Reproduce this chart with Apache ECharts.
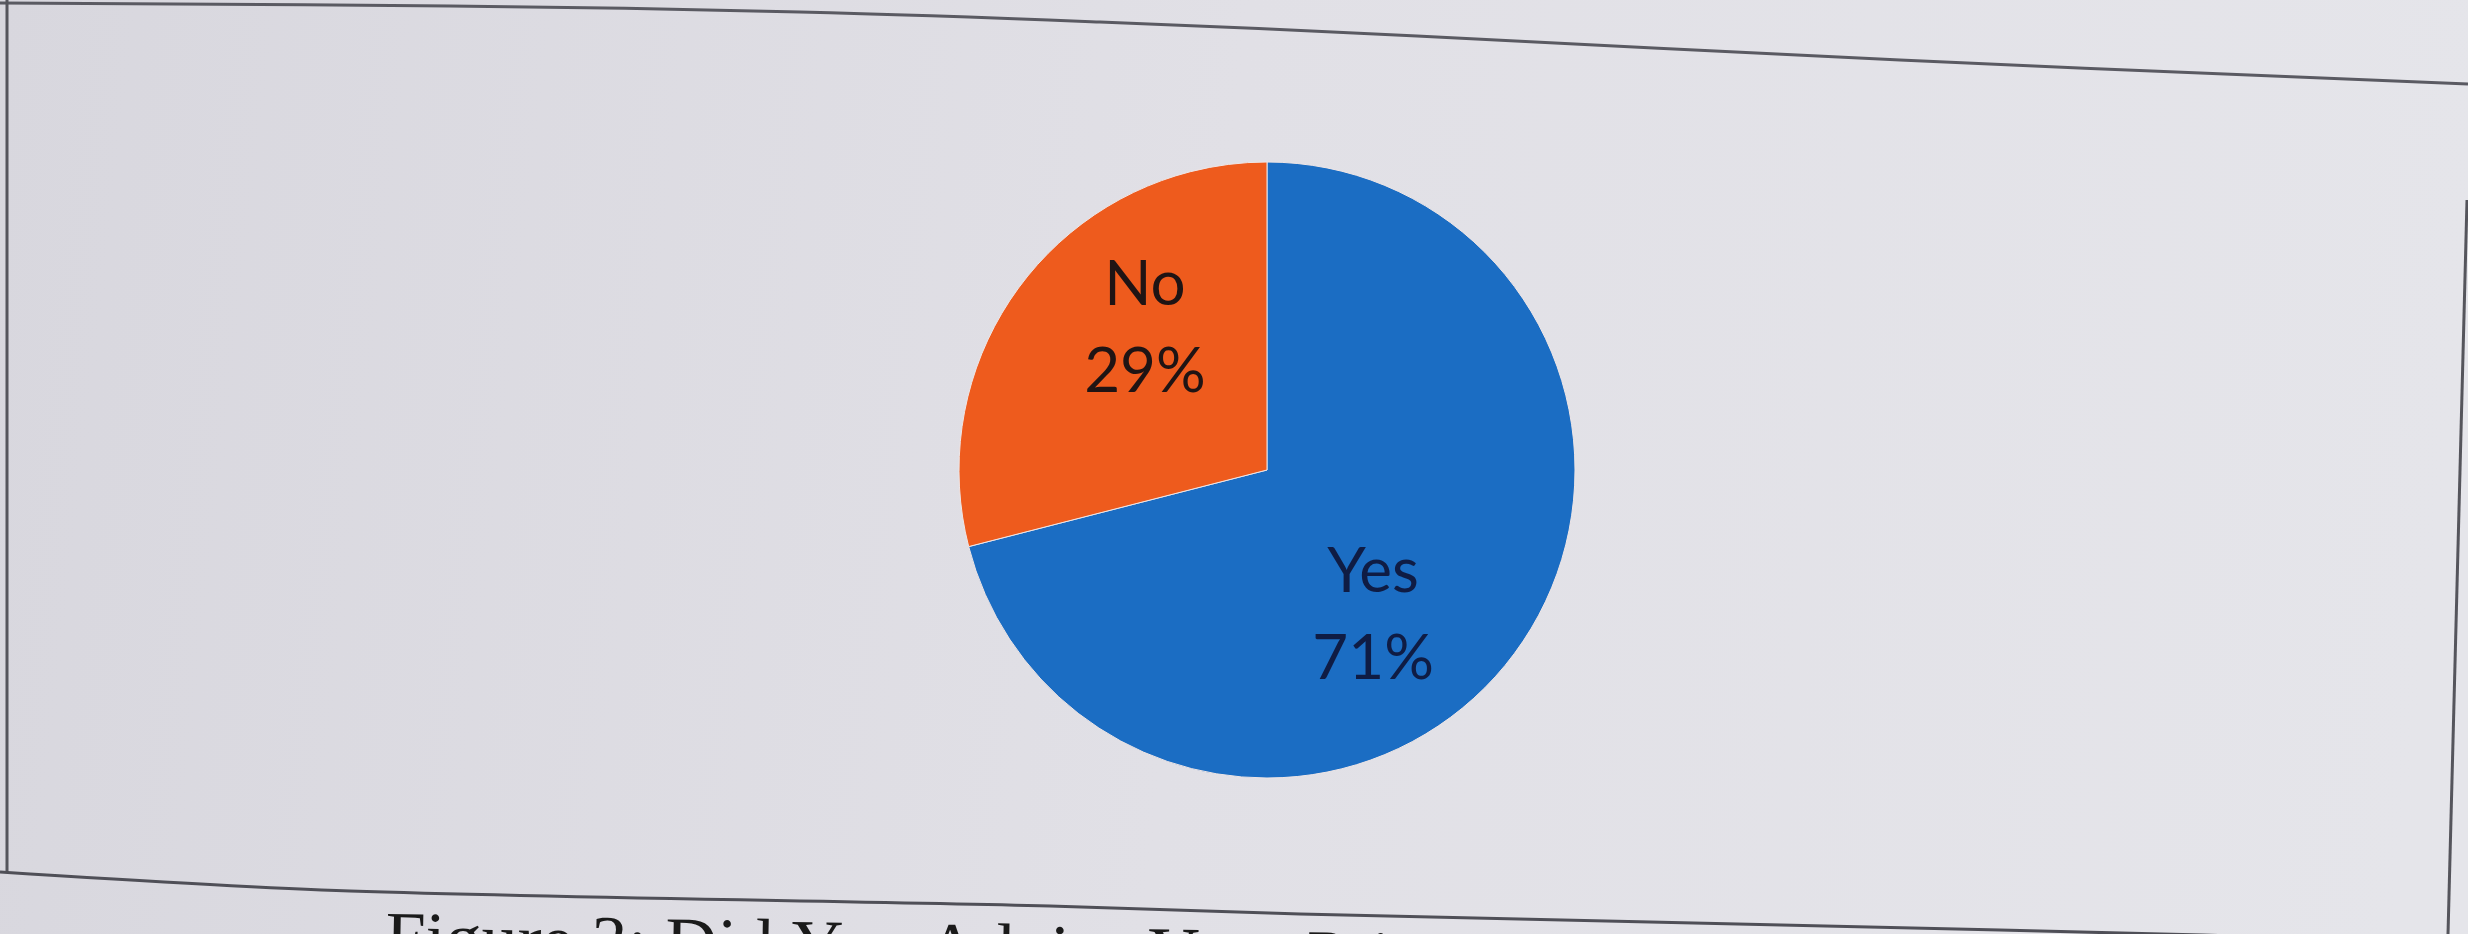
<!DOCTYPE html>
<html>
<head>
<meta charset="utf-8">
<script src="https://cdn.jsdelivr.net/npm/echarts@6/dist/echarts.min.js"></script>
<style>
html,body{margin:0;padding:0;}
#chart{width:2468px;height:934px;}
</style>
</head>
<body>
<div id="chart"></div>
<script>
// Data
const categories = ['Yes', 'No'];
const values = [71, 29];
const sliceColors = ['#1b6dc3', '#ee5b1d'];
const labelColors = ['#0f1c44', '#1f1414'];
const labelOffsets = [[-18, 49], [2, -45]];
const caption = 'Figure 3: Did You Advise Your Principal';

const chart = echarts.init(document.getElementById('chart'));

const seriesData = categories.map((c, i) => ({
  name: c,
  value: values[i],
  itemStyle: { color: sliceColors[i] },
  label: { color: labelColors[i], offset: labelOffsets[i] }
}));

const option = {
  backgroundColor: {
    type: 'linear', x: 0, y: 0, x2: 1, y2: 0.3,
    colorStops: [
      { offset: 0, color: '#d8d7de' },
      { offset: 0.5, color: '#e1e0e6' },
      { offset: 1, color: '#e5e5ea' }
    ]
  },
  animation: false,
  graphic: [
    { type: 'polyline', shape: { smooth: 0.4, points: [[0, 3], [450, 6], [800, 12], [1100, 22], [1417, 36], [1900, 60], [2468, 84]] },
      style: { stroke: '#5a5a62', lineWidth: 3, fill: null } },
    { type: 'line', shape: { x1: 7, y1: 0, x2: 7, y2: 872 }, style: { stroke: '#55555c', lineWidth: 3 } },
    { type: 'polyline', shape: { smooth: 0.3, points: [[0, 872], [350, 891], [1050, 906], [1300, 914], [2000, 930], [2468, 942]] },
      style: { stroke: '#4f4f57', lineWidth: 3, fill: null } },
    { type: 'line', shape: { x1: 2467, y1: 200, x2: 2448, y2: 934 }, style: { stroke: '#55555c', lineWidth: 3 } },
    { type: 'text', x: 386, y: 906, rotation: -0.02,
      style: { text: caption, font: '72px "Liberation Serif"', fill: '#1a1a1a', textVerticalAlign: 'top' } }
  ],
  series: [{
    type: 'pie',
    center: [1267, 470],
    radius: 308,
    startAngle: 90,
    clockwise: true,
    data: seriesData,
    itemStyle: { borderColor: '#efe6e6', borderWidth: 1 },
    label: {
      show: true,
      position: 'inside',
      formatter: '{b}\n{d}%',
      fontFamily: 'Lato',
      fontSize: 62,
      lineHeight: 87
    },
    labelLine: { show: false },
    emphasis: { disabled: true }
  }]
};
chart.setOption(option);
</script>
</body>
</html>
